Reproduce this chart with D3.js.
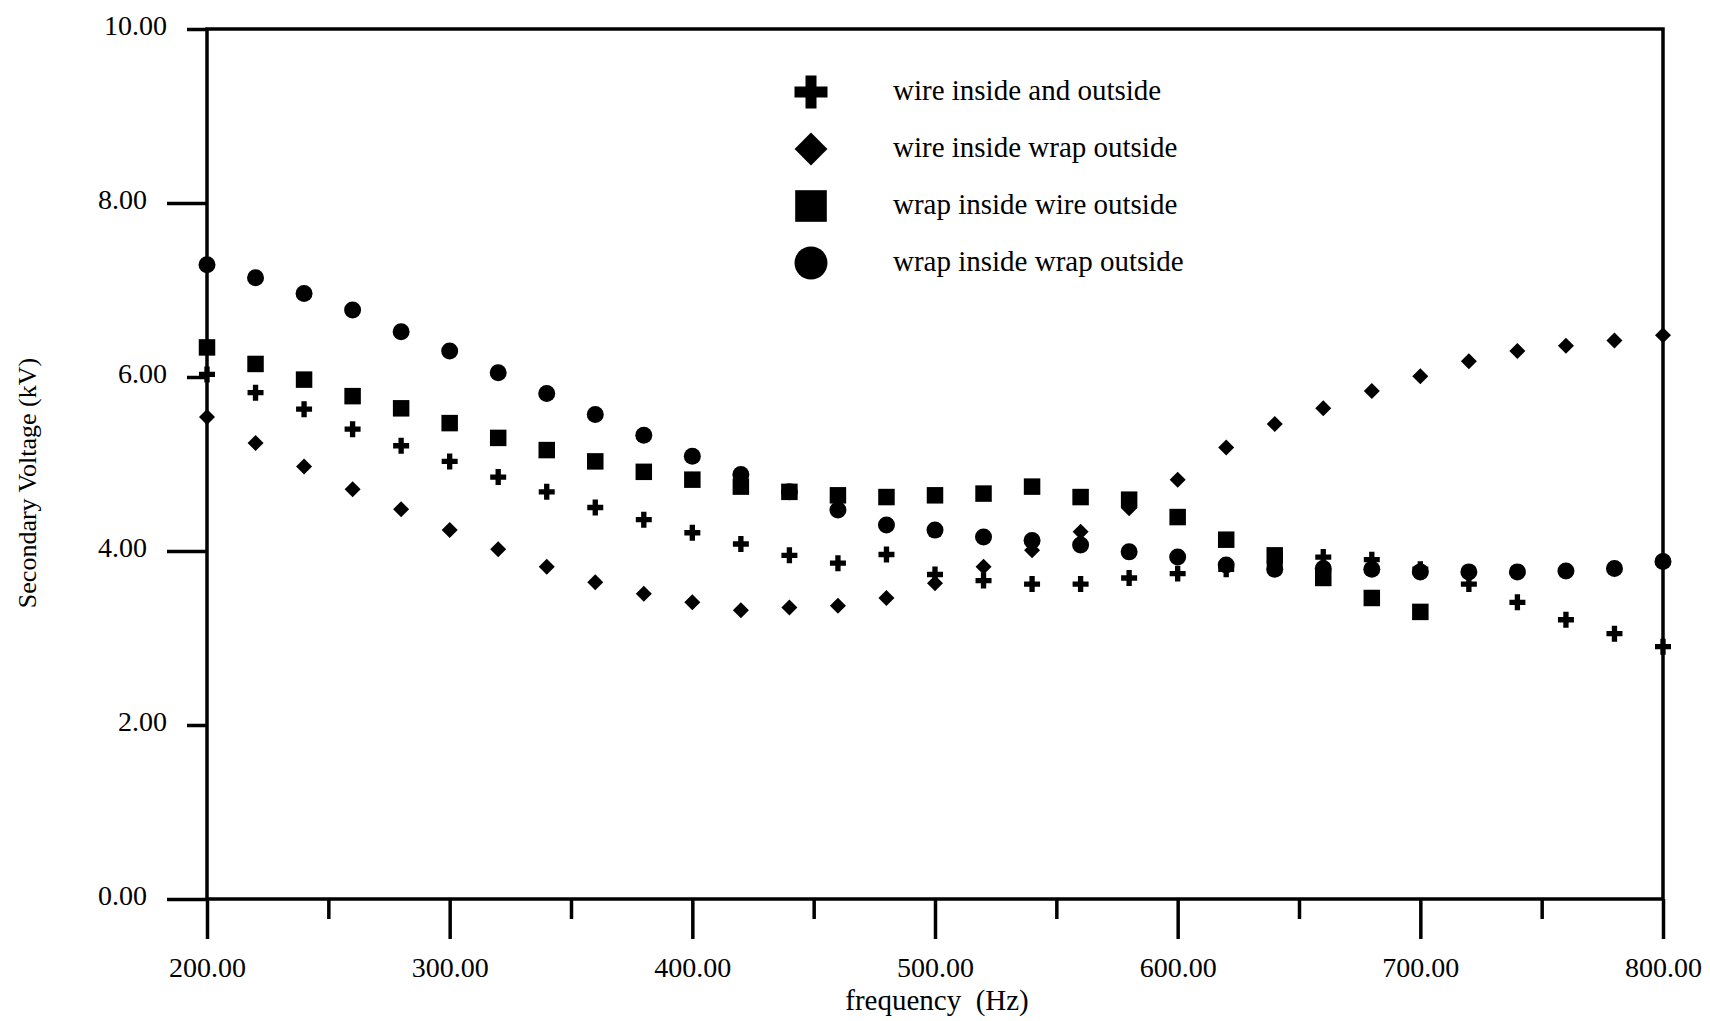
<meta charset="utf-8">
<html>

<head>
    <script src="https://d3js.org/d3.v7.min.js"></script>
    <style>
        body {
            margin: 0;
            background: #fff;
        }

        svg text {
            font-family: "Liberation Serif", "Times New Roman", serif;
            fill: #000;
        }
    </style>
</head>

<body>
    <div id="my_dataviz"></div>

    <script>
        // frequency steps (Hz)
        const freq = [200, 220, 240, 260, 280, 300, 320, 340, 360, 380, 400, 420, 440, 460, 480, 500,
            520, 540, 560, 580, 600, 620, 640, 660, 680, 700, 720, 740, 760, 780, 800];

        // secondary voltage (kV) for each winding arrangement
        const wireInWireOut = [6.03, 5.82, 5.63, 5.40, 5.21, 5.03, 4.85, 4.68, 4.50, 4.36, 4.21, 4.08, 3.95, 3.86, 3.96, 3.73,
            3.66, 3.62, 3.62, 3.69, 3.74, 3.79, 3.85, 3.93, 3.90, 3.79, 3.62, 3.41, 3.21, 3.05, 2.90];
        const wireInWrapOut = [5.54, 5.24, 4.97, 4.71, 4.48, 4.24, 4.02, 3.82, 3.64, 3.51, 3.41, 3.32, 3.35, 3.37, 3.46, 3.63,
            3.82, 4.01, 4.22, 4.49, 4.82, 5.19, 5.46, 5.64, 5.84, 6.01, 6.18, 6.30, 6.36, 6.42, 6.48];
        // no readings above 700 Hz for this one
        const wrapInWireOut = [6.34, 6.15, 5.97, 5.78, 5.64, 5.47, 5.30, 5.16, 5.03, 4.91, 4.82, 4.74, 4.68, 4.64, 4.62, 4.64,
            4.66, 4.74, 4.62, 4.59, 4.39, 4.13, 3.95, 3.69, 3.46, 3.30, null, null, null, null, null];
        const wrapInWrapOut = [7.29, 7.14, 6.96, 6.77, 6.52, 6.30, 6.05, 5.81, 5.57, 5.33, 5.09, 4.88, 4.68, 4.47, 4.30, 4.24,
            4.16, 4.12, 4.07, 3.99, 3.93, 3.84, 3.79, 3.80, 3.79, 3.76, 3.76, 3.76, 3.77, 3.80, 3.88];

        const seriesNames = ["wire inside and outside", "wire inside wrap outside",
            "wrap inside wire outside", "wrap inside wrap outside"];

        // tick values
        const xTicks = [200, 300, 400, 500, 600, 700, 800];
        const xMinorTicks = [250, 350, 450, 550, 650, 750];
        const yLongTicks = [0, 4, 8];
        const yShortTicks = [2, 6, 10];

        // set the dimensions and margins of the graph
        const margin = { top: 29, right: 47, bottom: 122, left: 207 },
            width = 1710 - margin.left - margin.right,
            height = 1021 - margin.top - margin.bottom;

        const svg = d3.select("#my_dataviz").append("svg")
            .attr("width", width + margin.left + margin.right)
            .attr("height", height + margin.top + margin.bottom)
            .append("g")
            .attr("transform", "translate(" + margin.left + "," + margin.top + ")");

        const x = d3.scaleLinear().domain([200, 800]).range([0, width]);
        const y = d3.scaleLinear().domain([0, 10]).range([height, 0]);
        const fmt = d3.format(".2f");

        // thick black ticks, no domain line (the frame is drawn separately)
        function styleAxis(g) {
            g.select(".domain").remove();
            g.selectAll("line").attr("stroke", "#000").attr("stroke-width", 3.5);
            g.selectAll("text").style("font-size", "28px");
        }

        // X axis: labelled ticks every 100 Hz, short ones in between
        svg.append("g").attr("transform", `translate(0, ${height})`)
            .call(d3.axisBottom(x).tickValues(xTicks).tickSize(40).tickPadding(18).tickFormat(fmt))
            .call(styleAxis);
        svg.append("g").attr("transform", `translate(0, ${height})`)
            .call(d3.axisBottom(x).tickValues(xMinorTicks).tickSize(20).tickFormat(""))
            .call(styleAxis);

        // Y axis: tick lengths alternate
        svg.append("g")
            .call(d3.axisLeft(y).tickValues(yLongTicks).tickSize(40).tickPadding(20).tickFormat(fmt))
            .call(styleAxis)
            .selectAll("text").attr("dy", "0.18em");
        svg.append("g")
            .call(d3.axisLeft(y).tickValues(yShortTicks).tickSize(20).tickPadding(20).tickFormat(fmt))
            .call(styleAxis)
            .selectAll("text").attr("dy", "0.18em");

        // plot frame
        svg.append("rect")
            .attr("width", width)
            .attr("height", height)
            .attr("fill", "none")
            .attr("stroke", "#000")
            .attr("stroke-width", 3.5);

        // X axis title
        svg.append("text")
            .attr("x", width / 2 + 2)
            .attr("y", height + 111)
            .attr("text-anchor", "middle")
            .style("font-size", "29px")
            .style("white-space", "pre")
            .text("frequency  (Hz)");

        // Y axis title
        svg.append("text")
            .attr("transform", `translate(${36 - margin.left}, ${483 - margin.top}) rotate(-90)`)
            .attr("text-anchor", "middle")
            .style("font-size", "26px")
            .text("Secondary Voltage (kV)");

        // marker shape per series: plus, diamond, square, circle
        const shapes = [d3.symbolCross, d3.symbolSquare, d3.symbolSquare, d3.symbolCircle];
        const turn = [0, 45, 0, 0];
        const markSize = [142, 128, 272, 227];
        const keySize = [605, 540, 1000, 855];

        const series = [wireInWireOut, wireInWrapOut, wrapInWireOut, wrapInWrapOut].map(function (vals, i) {
            return {
                name: seriesNames[i],
                points: freq.map((f, j) => ({ f: f, v: vals[j] })).filter(d => d.v != null)
            };
        });

        // data markers
        series.forEach(function (s, i) {
            svg.append("g").selectAll("path").data(s.points).enter().append("path")
                .attr("d", d3.symbol().type(shapes[i]).size(markSize[i]))
                .attr("transform", d => `translate(${x(d.f)},${y(d.v)}) rotate(${turn[i]})`)
                .attr("fill", "#000");
        });

        // legend
        const legend = svg.append("g")
            .attr("transform", "translate(604, 63)")
            .selectAll("g")
            .data(series)
            .enter().append("g")
            .attr("transform", (d, i) => "translate(0," + i * 57 + ")");

        legend.append("path")
            .attr("d", (d, i) => d3.symbol().type(shapes[i]).size(keySize[i])())
            .attr("transform", (d, i) => `rotate(${turn[i]})`)
            .attr("fill", "#000");

        legend.append("text")
            .attr("x", 82)
            .attr("y", 8)
            .style("font-size", "29px")
            .text(d => d.name);
    </script>
</body>

</html>
